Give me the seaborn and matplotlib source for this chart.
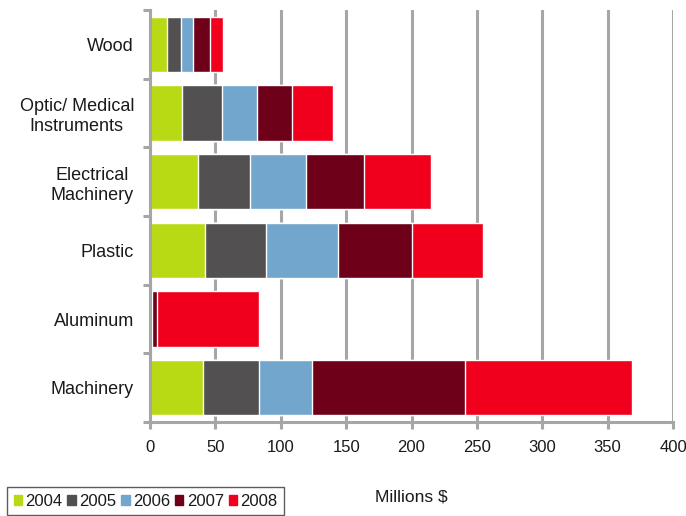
import matplotlib.pyplot as plt
import matplotlib.patches as mpatches
import seaborn as sns
import pandas as pd
import numpy as np

sns.set_theme(style='white')
plt.rcParams['font.family'] = ['Liberation Sans', 'DejaVu Sans']

# data (millions $)
categories = ['Wood', 'Optic/ Medical\nInstruments', 'Electrical\nMachinery',
              'Plastic', 'Aluminum', 'Machinery']
years = ['2004', '2005', '2006', '2007', '2008']
v2004 = [13.0, 24.5, 36.5, 42.0, 0.4, 40.8]
v2005 = [11.0, 30.4, 39.8, 47.0, 0.4, 42.8]
v2006 = [9.0, 27.2, 42.8, 55.0, 0.5, 40.4]
v2007 = [12.6, 26.8, 44.4, 56.4, 4.3, 117.3]
v2008 = [10.4, 30.9, 51.3, 54.6, 77.8, 127.0]

colors = ['#B8DA14', '#525051', '#72A6CD', '#6E0019', '#F0001C']
GRID = '#A6A6A6'
TEXT = '#1a1a1a'

df = pd.DataFrame({'category': categories, '2004': v2004, '2005': v2005,
                   '2006': v2006, '2007': v2007, '2008': v2008})
cum = df[years].cumsum(axis=1)
cum['category'] = df['category']

fig = plt.figure(figsize=(6.86, 5.16), dpi=100)
ax = fig.add_axes([150 / 686, 1 - 422 / 516, 523 / 686, 412 / 516])

# stacked bars: draw cumulative totals back to front
for yr, col in reversed(list(zip(years, colors))):
    sns.barplot(data=cum, x=yr, y='category', order=categories, color=col,
                orient='h', width=0.81, edgecolor='white', linewidth=1.0,
                saturation=1, ax=ax)

ax.set_xlim(0, 400)
ax.set_ylim(len(categories) - 0.5, -0.5)
ax.set_xticks(np.arange(0, 401, 50))
ax.set_xlabel('')
ax.set_ylabel('')
ax.grid(True, axis='x', color=GRID, linewidth=2.2)
ax.set_axisbelow(True)

for side in ['top', 'right']:
    ax.spines[side].set_visible(False)
for side in ['left', 'bottom']:
    ax.spines[side].set_color(GRID)
    ax.spines[side].set_linewidth(2.2)

# tick marks at category boundaries on the y axis
ax.set_yticks(np.arange(-0.5, len(categories), 1), minor=True)
ax.tick_params(axis='y', which='minor', length=5, width=2.2, color=GRID, left=True)
ax.tick_params(axis='y', which='major', length=0, pad=11.5, labelsize=13, labelcolor=TEXT)
ax.tick_params(axis='x', which='major', length=5, width=2.2, color=GRID, bottom=True,
               pad=8, labelsize=12, labelcolor=TEXT)
for lbl in ax.get_yticklabels():
    lbl.set_multialignment('center')
    lbl.set_linespacing(1.25)

handles = [mpatches.Patch(color=c, label=y) for y, c in zip(years, colors)]
leg = fig.legend(handles=handles, loc='upper left', bbox_to_anchor=(7 / 686, 1 - 487 / 516),
                 ncol=5, frameon=True, fontsize=12, handlelength=0.5, handleheight=0.5,
                 handletextpad=0.2, columnspacing=0.3, borderpad=0.4, fancybox=False,
                 borderaxespad=0)
leg.get_frame().set_edgecolor('#333333')
leg.get_frame().set_linewidth(1.0)
for t in leg.get_texts():
    t.set_color(TEXT)

fig.text(375 / 686, 1 - 497 / 516, 'Millions $', fontsize=12.5, va='center', ha='left',
         color=TEXT)

fig.savefig('out.png', dpi=100)
